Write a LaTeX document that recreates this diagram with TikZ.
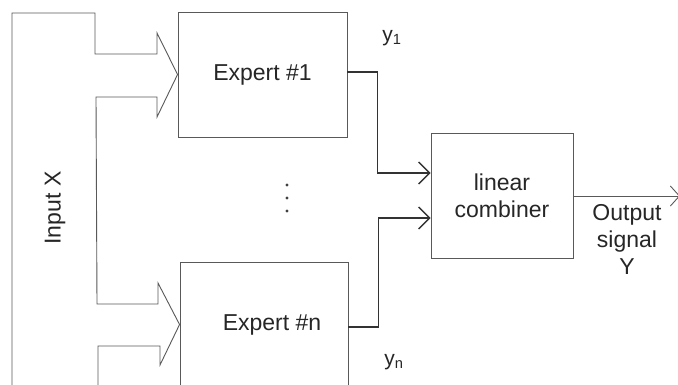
\documentclass[tikz,border=0pt]{standalone}
\usepackage{fontspec}
\setmainfont{Liberation Sans}
\usetikzlibrary{arrows.meta}
\begin{document}
\begin{tikzpicture}[x=1pt,y=-1pt,
  thinline/.style={draw=black!65,line width=0.9pt},
  box/.style={thinline,rectangle,minimum width=#1,minimum height=125pt,inner sep=0pt},
  lbl/.style={text=black!85,font=\fontsize{23}{27}\selectfont,inner sep=0pt,align=center},
  dotmark/.style={circle,fill=black!75,inner sep=0pt,minimum size=3.4pt},
  conn/.style={draw=black!80,line width=1.8pt,-{Straight Barb[length=11pt,width=22pt,line width=1.3pt]}},
  outconn/.style={thinline,-{Straight Barb[length=9pt,width=20pt,line width=0.9pt]}}]
\useasboundingbox[fill=white] (0,0) rectangle (678,384);
\node[box=169pt] (e1) at (262.5,74.5) {};
\node[box=168pt] (en) at (264,324.5) {};
\node[box=142pt] (comb) at (502,195.5) {};
\node[lbl] (e1t) at (e1.center) {Expert \#1};
\node[lbl] (ent) at (272,325) {Expert \#n};
\node[lbl] (combt) at (502,196) {linear\\combiner};
\node[lbl] (outt) at (627,239) {Output\\signal\\Y};
\node[lbl,rotate=90] (inx) at (55,208) {Input X};
\node[lbl,font=\fontsize{21}{25}\selectfont] (y1) at (392,38) {y\textsubscript{1}};
\node[lbl,font=\fontsize{21}{25}\selectfont] (yn) at (394,362) {y\textsubscript{n}};
\node[dotmark] (d1) at (287,185) {};
\node[dotmark] (d2) at (287,198) {};
\node[dotmark] (d3) at (287,211) {};
% hollow input arrows
\draw[thinline,line join=miter]
  (12,390) -- (12,13) -- (95,13) -- (95,54) -- (157,54) -- (157,33) -- (e1.west)
  -- (157,117) -- (157,97) -- (96,97) -- (97,304) -- (158,304) -- (158,283) -- (en.west)
  -- (160,365) -- (160,346) -- (98,346) -- (98,390);
% expert outputs
\coordinate (c1) at ([yshift=22.5pt]comb.west);
\coordinate (c2) at ([yshift=-22.5pt]comb.west);
\draw[conn] ([yshift=2.5pt]e1.east) -- ++(30,0) |- (c1);
\draw[conn] ([yshift=-2.5pt]en.east) -- ++(30,0) |- (c2);
\coordinate (outend) at (680,196);
\draw[outconn] (comb.east |- outend) -- (outend);
\end{tikzpicture}
\end{document}
